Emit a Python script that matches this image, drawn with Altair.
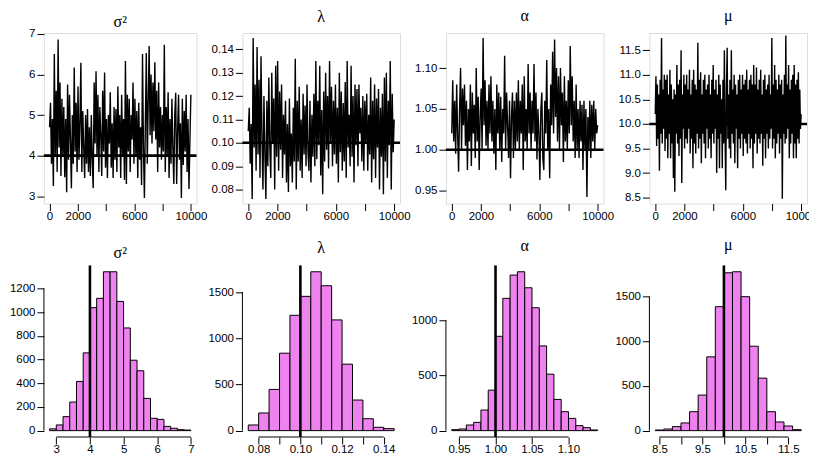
import altair as alt
import pandas as pd

# ---------------- data ----------------
titles = ["σ²", "λ", "α", "μ"]
true_values = [4.0, 0.10, 1.00, 10.0]

sig2_trace = [4.7, 5.3, 3.8, 4.9, 3.25, 6.5, 4.0, 5.6, 3.6, 6.86,
              4.2, 5.8, 3.5, 5.4, 4.0, 5.2, 3.47, 4.9, 3.1, 5.75,
              3.9, 5.5, 4.4, 3.2, 5.0, 3.8, 6.17, 4.1, 5.3, 3.6,
              5.7, 3.9, 4.8, 6.29, 3.6, 5.1, 4.2, 3.45, 5.0, 3.8,
              5.15, 3.6, 4.7, 3.5, 5.0, 3.9, 3.2, 5.8, 4.3, 6.08,
              4.0, 5.5, 3.6, 5.2, 4.5, 3.5, 5.6, 4.1, 6.05, 3.7,
              4.9, 3.45, 5.0, 4.3, 5.56, 3.7, 4.8, 3.45, 5.2, 3.9,
              5.15, 3.6, 5.7, 4.2, 5.0, 3.45, 5.5, 4.0, 4.9, 3.4,
              6.33, 3.3, 5.5, 4.1, 5.4, 3.6, 5.0, 4.4, 5.8, 3.8,
              5.4, 4.0, 5.1, 3.45, 5.3, 3.9, 4.7, 3.28, 6.5, 4.2,
              2.96, 4.8, 6.53, 3.8, 5.3, 6.7, 4.5, 6.0, 4.3, 5.8,
              4.6, 6.3, 4.4, 5.6, 3.6, 5.8, 4.2, 5.2, 3.9, 5.0,
              4.1, 6.73, 3.6, 5.2, 4.0, 5.56, 3.45, 4.9, 3.8, 5.4,
              4.2, 3.3, 5.0, 5.55, 3.3, 4.6, 5.5, 3.9, 4.8, 2.96,
              5.4, 3.77, 5.1, 4.1, 5.5, 3.6, 4.9, 3.18, 4.4, 5.5]

lam_trace = [0.105, 0.115, 0.091, 0.108, 0.076, 0.1449, 0.098, 0.125, 0.088, 0.141,
             0.095, 0.127, 0.085, 0.137, 0.102, 0.080, 0.120, 0.095, 0.076, 0.118,
             0.090, 0.128, 0.098, 0.085, 0.130, 0.100, 0.119, 0.080, 0.133, 0.094,
             0.135, 0.088, 0.122, 0.097, 0.125, 0.085, 0.112, 0.095, 0.118, 0.083,
             0.108, 0.079, 0.119, 0.090, 0.104, 0.083, 0.115, 0.092, 0.136, 0.080,
             0.118, 0.092, 0.124, 0.088, 0.110, 0.085, 0.121, 0.095, 0.116, 0.090,
             0.125, 0.096, 0.088, 0.118, 0.083, 0.112, 0.094, 0.121, 0.090, 0.135,
             0.093, 0.118, 0.099, 0.133, 0.086, 0.114, 0.078, 0.122, 0.092, 0.130,
             0.097, 0.120, 0.089, 0.135, 0.100, 0.124, 0.090, 0.118, 0.095, 0.125,
             0.091, 0.115, 0.083, 0.130, 0.096, 0.122, 0.088, 0.117, 0.092, 0.126,
             0.085, 0.135, 0.098, 0.112, 0.090, 0.133, 0.094, 0.120, 0.083, 0.125,
             0.099, 0.123, 0.090, 0.125, 0.104, 0.115, 0.092, 0.120, 0.088, 0.118,
             0.100, 0.121, 0.088, 0.112, 0.095, 0.128, 0.083, 0.118, 0.093, 0.125,
             0.085, 0.119, 0.098, 0.123, 0.080, 0.115, 0.094, 0.121, 0.078, 0.128,
             0.092, 0.130, 0.085, 0.118, 0.099, 0.135, 0.080, 0.121, 0.096, 0.110]

alp_trace = [1.02, 1.085, 1.01, 1.06, 0.995, 1.08, 1.02, 0.973, 1.05, 1.10,
             1.00, 1.075, 1.03, 1.08, 1.005, 1.06, 0.975, 1.05, 1.01, 1.08,
             0.98, 1.07, 1.02, 1.055, 0.99, 1.10, 1.01, 1.065, 0.975, 1.04,
             1.075, 1.00, 1.137, 1.03, 1.085, 1.005, 1.06, 1.00, 1.08, 1.02,
             1.09, 1.01, 1.06, 0.995, 1.05, 0.975, 1.08, 1.02, 1.07, 1.00,
             1.065, 0.985, 1.05, 1.02, 1.115, 1.00, 1.07, 1.03, 0.99, 1.06,
             0.965, 1.04, 1.07, 0.99, 1.06, 1.00, 1.07, 1.01, 1.085, 1.00,
             1.06, 1.02, 1.08, 0.975, 1.09, 1.01, 1.05, 1.00, 1.105, 1.02,
             1.07, 1.00, 1.06, 1.02, 1.105, 1.01, 1.07, 0.988, 1.05, 1.02,
             0.963, 1.05, 1.07, 0.99, 0.975, 1.06, 1.02, 1.11, 1.00, 1.05,
             0.965, 1.08, 1.03, 1.12, 1.02, 1.135, 1.04, 1.10, 1.01, 1.09,
             1.00, 1.10, 1.03, 1.07, 0.985, 1.09, 1.01, 1.06, 1.00, 1.085,
             1.02, 1.127, 1.03, 1.09, 1.01, 1.06, 0.99, 1.08, 1.00, 1.05,
             0.99, 1.06, 1.01, 1.055, 0.975, 1.06, 1.00, 1.05, 0.942, 1.04,
             1.00, 1.06, 0.99, 1.055, 1.01, 1.06, 1.00, 1.05, 1.02, 1.03]

mu_trace = [10.2, 10.97, 9.55, 10.8, 9.7, 10.6, 9.05, 10.9, 9.8, 11.75, 9.6, 10.7, 9.9, 11.0,
            9.45, 10.9, 9.7, 11.0, 9.3, 10.6, 9.8, 11.1, 9.3, 10.8, 9.6, 10.5, 8.9, 10.7,
            8.62, 10.6, 9.8, 11.2, 9.6, 10.8, 9.35, 10.9, 9.7, 11.5, 8.8, 10.6, 9.9, 11.0,
            9.5, 10.8, 9.7, 11.0, 9.6, 10.7, 9.9, 11.1, 9.4, 10.6, 9.7, 10.9, 9.1, 11.1,
            9.6, 10.8, 9.4, 10.7, 9.8, 11.65, 9.5, 10.9, 9.7, 11.05, 9.2, 10.6, 9.8, 10.9,
            9.6, 11.0, 9.3, 10.7, 9.9, 10.8, 9.5, 11.0, 9.7, 10.6, 9.3, 10.9, 9.8, 11.2,
            9.6, 10.7, 9.9, 10.9, 9.0, 10.6, 9.7, 11.0, 9.1, 10.8, 9.8, 10.5, 9.1, 10.9,
            9.6, 11.5, 9.8, 8.65, 10.7, 11.55, 9.7, 10.6, 9.5, 10.9, 9.3, 11.5, 9.8, 10.7,
            9.6, 11.0, 9.2, 10.8, 9.9, 10.6, 9.1, 10.9, 9.7, 11.0, 9.5, 10.7, 9.8, 11.0,
            9.35, 10.8, 9.7, 10.9, 9.6, 11.1, 9.4, 10.7, 9.8, 10.9, 9.5, 11.0, 9.7, 10.8,
            9.1, 11.2, 9.6, 10.8, 9.8, 11.15, 9.4, 10.7, 9.7, 10.9, 9.6, 11.1, 9.8, 10.6,
            9.15, 10.9, 9.7, 11.0, 9.3, 10.7, 9.8, 10.8, 9.5, 11.0, 9.7, 10.6, 9.9, 11.75,
            9.5, 10.8, 9.7, 11.2, 9.3, 10.9, 9.6, 10.7, 9.8, 11.0, 9.4, 10.8, 9.7, 10.9,
            8.48, 10.6, 9.8, 11.0, 9.6, 11.8, 9.7, 10.8, 9.9, 11.2, 9.3, 10.7, 9.6, 10.9,
            9.8, 11.0, 9.3, 11.2, 9.6, 10.8, 9.3, 10.9, 9.7, 11.05, 9.6, 10.7, 9.9, 10.2]

trace_x_ticks = [0, 2000, 4000, 6000, 8000, 10000]
sig2_y_ticks = [3, 4, 5, 6, 7]
lam_y_ticks = [0.08, 0.09, 0.10, 0.11, 0.12, 0.13, 0.14]
alp_y_ticks = [0.95, 1.00, 1.05, 1.10]
mu_y_ticks = [8.5, 9.0, 9.5, 10.0, 10.5, 11.0, 11.5]

sig2_edges = [2.8, 3.0, 3.2, 3.4, 3.6, 3.8, 4.0, 4.2, 4.4, 4.6, 4.8, 5.0,
              5.2, 5.4, 5.6, 5.8, 6.0, 6.2, 6.4, 6.6, 6.8, 7.0]
sig2_counts = [15, 48, 118, 241, 415, 656, 1037, 1116, 1340, 1340, 1090,
               866, 594, 505, 272, 104, 95, 36, 20, 8, 5]
lam_edges = [0.075, 0.080, 0.085, 0.090, 0.095, 0.100, 0.105, 0.110,
             0.115, 0.120, 0.125, 0.130, 0.135, 0.140, 0.145]
lam_counts = [61, 191, 446, 838, 1248, 1453, 1719, 1568, 1198, 719, 331, 129, 36, 22]
alp_edges = [0.94, 0.95, 0.96, 0.97, 0.98, 0.99, 1.00, 1.01, 1.02, 1.03, 1.04,
             1.05, 1.06, 1.07, 1.08, 1.09, 1.10, 1.11, 1.12, 1.13, 1.14]
alp_counts = [9, 15, 51, 75, 187, 367, 855, 1199, 1410, 1440, 1295, 1114,
              768, 512, 283, 172, 111, 45, 27, 6]
mu_edges = [8.4, 8.6, 8.8, 9.0, 9.2, 9.4, 9.6, 9.8, 10.0, 10.2, 10.4,
            10.6, 10.8, 11.0, 11.2, 11.4, 11.6, 11.8]
mu_counts = [7, 18, 45, 86, 212, 398, 826, 1388, 1768, 1779, 1500, 945,
             588, 212, 97, 52, 11]

sig2_hx_ticks = [3, 4, 5, 6, 7]
lam_hx_ticks = [0.08, 0.09, 0.10, 0.11, 0.12, 0.13, 0.14]
alp_hx_ticks = [0.95, 1.00, 1.05, 1.10]
mu_hx_ticks = [8.5, 9.0, 9.5, 10.0, 10.5, 11.0, 11.5]

sig2_hy_ticks = [0, 200, 400, 600, 800, 1000, 1200]
lam_hy_ticks = [0, 500, 1000, 1500]
alp_hy_ticks = [0, 500, 1000]
mu_hy_ticks = [0, 500, 1000, 1500]

# ---------------- styling ----------------
LABEL_FONT = "Liberation Sans"
TITLE_FONT = "Liberation Serif"
TITLE_SIZE = 16
WIDTHS = [153, 158, 158, 158]
TOP_H = 171
BOT_H = 172
VIOLET = "#EE82EE"


def axis(values, fmt, label_expr=None, orient_x=True):
    kw = dict(values=values, tickCount=len(values), format=fmt, domain=False,
              grid=False, tickSize=7, tickColor="black", tickWidth=1,
              labelColor="black", labelFont=LABEL_FONT, labelFontSize=11.5,
              title=None, labelOverlap=False, labelFlush=False)
    kw["labelPadding"] = 0 if orient_x else 2
    if label_expr:
        kw["labelExpr"] = label_expr
    return alt.Axis(**kw)


def title_layer(title, width, dy):
    return alt.Chart(pd.DataFrame({"t": [title]})).mark_text(
        font=TITLE_FONT, fontSize=TITLE_SIZE, baseline="alphabetic", align="center",
        color="black").encode(text="t:N", x=alt.value(width / 2), y=alt.value(-dy))


def trace_panel(vals, title, ydom, yticks, yfmt, tv, width, toff):
    n = len(vals)
    iters = [1 + i * 9999 / (n - 1) for i in range(n)]
    df = pd.DataFrame({"iter": iters, "value": vals})
    line = alt.Chart(df).mark_line(color="black", strokeWidth=1.4, clip=True).encode(
        x=alt.X("iter:Q", scale=alt.Scale(domain=[-400, 10400], nice=False, zero=False),
                axis=axis(trace_x_ticks, "d",
                          "(datum.value == 4000 || datum.value == 8000) ? '' : datum.label")),
        y=alt.Y("value:Q", scale=alt.Scale(domain=ydom, nice=False, zero=False),
                axis=axis(yticks, yfmt, orient_x=False)),
    )
    rule = alt.Chart(pd.DataFrame({"v": [tv]})).mark_rule(
        color="black", strokeWidth=2.6).encode(y=alt.Y("v:Q"))
    return alt.layer(line, rule, title_layer(title, width, toff)).properties(
        width=width, height=TOP_H)


def hist_panel(edges, counts, title, xticks, xfmt, xexpr, yticks, tv, width, toff):
    df = pd.DataFrame({"lo": edges[:-1], "hi": edges[1:], "count": counts})
    e0, e1 = edges[0], edges[-1]
    xr = e1 - e0
    m = max(counts)
    xscale = alt.Scale(domain=[e0 - 0.04 * xr, e1 + 0.04 * xr], nice=False, zero=False)
    yscale = alt.Scale(domain=[-0.04 * m, 1.04 * m], nice=False, zero=False)
    bars = alt.Chart(df).mark_bar(fill=VIOLET, stroke="black", strokeWidth=1).encode(
        x=alt.X("lo:Q", scale=xscale, axis=axis(xticks, xfmt, xexpr)),
        x2="hi:Q",
        y=alt.Y("count:Q", scale=yscale, axis=axis(yticks, "d", orient_x=False)),
        y2=alt.datum(0),
    )
    vline = alt.Chart(pd.DataFrame({"v": [tv]})).mark_rule(
        color="black", strokeWidth=2.6).encode(x=alt.X("v:Q"))
    xline = alt.Chart(pd.DataFrame({"a": [xticks[0]], "b": [xticks[-1]]})).mark_rule(
        color="black", strokeWidth=1).encode(x=alt.X("a:Q"), x2="b:Q", y=alt.value(BOT_H))
    yline = alt.Chart(pd.DataFrame({"a": [yticks[0]], "b": [yticks[-1]]})).mark_rule(
        color="black", strokeWidth=1).encode(y=alt.Y("a:Q"), y2="b:Q", x=alt.value(0))
    return alt.layer(bars, vline, xline, yline, title_layer(title, width, toff)).properties(
        width=width, height=BOT_H,
        view=alt.ViewBackground(stroke="transparent"),
    )


tops = [
    trace_panel(sig2_trace, titles[0], [2.82, 7.02], sig2_y_ticks, "d", true_values[0], WIDTHS[0], 6.5),
    trace_panel(lam_trace, titles[1], [0.074, 0.147], lam_y_ticks, ".2f", true_values[1], WIDTHS[1], 10.8),
    trace_panel(alp_trace, titles[2], [0.934, 1.143], alp_y_ticks, ".2f", true_values[2], WIDTHS[2], 12.2),
    trace_panel(mu_trace, titles[3], [8.38, 11.85], mu_y_ticks, ".1f", true_values[3], WIDTHS[3], 12.5),
]

bots = [
    hist_panel(sig2_edges, sig2_counts, titles[0], sig2_hx_ticks, "d", None,
               sig2_hy_ticks, true_values[0], WIDTHS[0], 7),
    hist_panel(lam_edges, lam_counts, titles[1], lam_hx_ticks, ".2f",
               "round(datum.value * 100) % 2 == 1 ? '' : datum.label",
               lam_hy_ticks, true_values[1], WIDTHS[1], 12),
    hist_panel(alp_edges, alp_counts, titles[2], alp_hx_ticks, ".2f", None,
               alp_hy_ticks, true_values[2], WIDTHS[2], 14.5),
    hist_panel(mu_edges, mu_counts, titles[3], mu_hx_ticks, ".1f",
               "datum.value % 1 == 0 ? '' : datum.label",
               mu_hy_ticks, true_values[3], WIDTHS[3], 15),
]

chart = alt.concat(*(tops + bots), columns=4, bounds="flush",
                   spacing={"row": 62, "column": 46}).properties(
    padding={"left": 0, "top": -1.5, "right": -9, "bottom": 0}
).configure_view(stroke="black", strokeWidth=1).configure(background="white")

chart.save("out.html", embed_options={"renderer": "svg", "actions": False})
